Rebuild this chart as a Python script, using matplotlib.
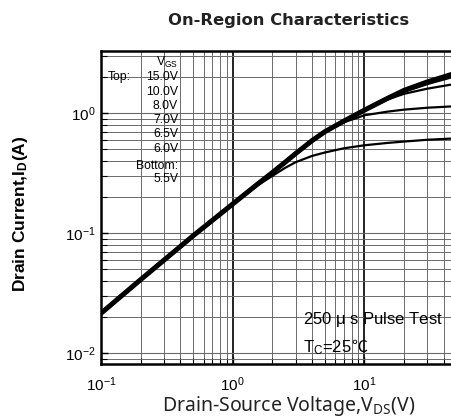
import numpy as np
import matplotlib
matplotlib.use("Agg")
import matplotlib.pyplot as plt
from matplotlib.patches import Rectangle

plt.rcParams['font.family'] = ['Liberation Sans', 'DejaVu Sans']
plt.rcParams['mathtext.default'] = 'regular'

# V_DS sample points (V)
vds = [0.1, 0.2, 0.5, 1, 1.5, 2, 2.5, 3, 4, 5, 7, 10, 15, 20, 30, 47]

# I_D (A) for each V_GS curve
id_15v = [0.0215, 0.041, 0.095, 0.175, 0.25, 0.32, 0.39, 0.46, 0.59, 0.70, 0.86, 1.06, 1.33, 1.55, 1.82, 2.12]
id_10v = [0.0215, 0.041, 0.095, 0.175, 0.25, 0.32, 0.39, 0.46, 0.59, 0.70, 0.86, 1.06, 1.33, 1.54, 1.80, 2.08]
id_8v = [0.0215, 0.041, 0.095, 0.175, 0.25, 0.32, 0.39, 0.46, 0.59, 0.70, 0.86, 1.06, 1.32, 1.52, 1.76, 2.02]
id_7v = [0.0215, 0.041, 0.095, 0.175, 0.25, 0.32, 0.39, 0.46, 0.59, 0.70, 0.86, 1.05, 1.30, 1.45, 1.60, 1.74]
id_6v5 = [0.0215, 0.041, 0.095, 0.175, 0.25, 0.32, 0.39, 0.46, 0.59, 0.70, 0.84, 0.96, 1.03, 1.07, 1.11, 1.14]
id_6v = [0.0215, 0.041, 0.095, 0.175, 0.245, 0.30, 0.35, 0.39, 0.44, 0.47, 0.51, 0.54, 0.565, 0.58, 0.60, 0.615]

vgs_labels = ['15.0V', '10.0V', '8.0V', '7.0V', '6.5V', '6.0V']
bottom_label = '5.5V'

fig = plt.figure(figsize=(4.51, 4.19), dpi=100)
ax = fig.add_axes([0.224, 0.131, 0.876, 0.747])

ax.set_xscale('log')
ax.set_yscale('log')
ax.set_xlim(0.1, 100)
ax.set_ylim(0.0081, 3.29)
ax.set_xticks([0.1, 1, 10])

# grid
ax.grid(which='minor', color='#6a6a6a', lw=0.7, zorder=0)
ax.grid(which='major', axis='x', color='#111111', lw=1.3, zorder=0)
ax.grid(which='major', axis='y', color='#6a6a6a', lw=0.8, zorder=0)

# curves
for ys, lw in [(id_15v, 3.6), (id_10v, 2.6), (id_8v, 2.2), (id_7v, 1.6), (id_6v5, 1.6), (id_6v, 1.6)]:
    ax.plot(vds, ys, color='black', lw=lw, solid_capstyle='round', solid_joinstyle='round', zorder=3)

# white boxes behind the annotations
ax.add_patch(Rectangle((0.0, 0.58), 0.195, 0.42, transform=ax.transAxes,
                       facecolor='white', edgecolor='none', zorder=1))
ax.add_patch(Rectangle((0.505, 0.02), 0.5, 0.165, transform=ax.transAxes,
                       facecolor='white', edgecolor='none', zorder=1))

# V_GS legend text
tx = 0.195
fs = 8.8
ax.text(tx, 0.963, r'V$_{GS}$', transform=ax.transAxes, ha='right', va='center', fontsize=fs, zorder=4)
ax.text(0.018, 0.917, 'Top:', transform=ax.transAxes, ha='left', va='center', fontsize=fs, zorder=4)
ys_txt = [0.917, 0.870, 0.826, 0.779, 0.735, 0.688]
for lab, yy in zip(vgs_labels, ys_txt):
    ax.text(tx, yy, lab, transform=ax.transAxes, ha='right', va='center', fontsize=fs, zorder=4)
ax.text(tx, 0.634, 'Bottom:', transform=ax.transAxes, ha='right', va='center', fontsize=fs, zorder=4)
ax.text(tx, 0.592, bottom_label, transform=ax.transAxes, ha='right', va='center', fontsize=fs, zorder=4)

# pulse test note
ax.text(0.511, 0.144, r'250 $\mu$ s Pulse Test', transform=ax.transAxes, ha='left', va='center',
        fontsize=12, zorder=4)
tc = ax.text(0.511, 0.054, 'T$_C$=25', transform=ax.transAxes, ha='left', va='center',
             fontsize=12, zorder=4)
ax.annotate('\u2103', xy=(1, 0.5), xycoords=tc, ha='left', va='center', fontsize=11.5,
            family=['Noto Sans CJK SC', 'DejaVu Sans'], zorder=4)

# ticks and spines
ax.tick_params(which='both', direction='in', top=False, right=False)
ax.tick_params(which='major', length=5, width=1, labelsize=11, pad=8)
ax.tick_params(which='minor', length=4, width=0.8)
ax.tick_params(axis='y', which='major', pad=4)
for s in ['left', 'bottom', 'top']:
    ax.spines[s].set_linewidth(1.8)
ax.spines['right'].set_visible(False)

fig.text(0.639, 0.952, 'On-Region Characteristics', ha='center', va='center', fontsize=11.8,
         fontweight='bold', family='DejaVu Sans', color='#222222')
fig.text(0.639, 0.03, r'Drain-Source Voltage,V$_{DS}$(V)', ha='center', va='center', fontsize=14,
         family='Noto Sans', color='#222222')
fig.text(0.045, 0.489, r'Drain Current,I$_D$(A)', ha='center', va='center', fontsize=12.5,
         fontweight='bold', rotation=90)

fig.savefig('out.png', dpi=100)
